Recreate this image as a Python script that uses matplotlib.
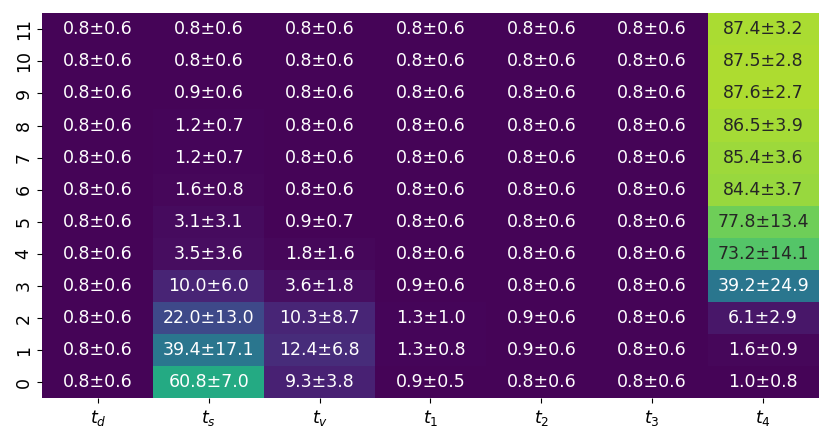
import numpy as np
import pandas as pd
import matplotlib
matplotlib.use("Agg")
import matplotlib.pyplot as plt
import seaborn as sns

# rows 0..11 (bottom to top), mean and std for each column
rows = list(range(12))
columns = ["$t_d$", "$t_s$", "$t_v$", "$t_1$", "$t_2$", "$t_3$", "$t_4$"]

td_mean = [0.8] * 12
td_std = [0.6] * 12
ts_mean = [60.8, 39.4, 22.0, 10.0, 3.5, 3.1, 1.6, 1.2, 1.2, 0.9, 0.8, 0.8]
ts_std = [7.0, 17.1, 13.0, 6.0, 3.6, 3.1, 0.8, 0.7, 0.7, 0.6, 0.6, 0.6]
tv_mean = [9.3, 12.4, 10.3, 3.6, 1.8, 0.9, 0.8, 0.8, 0.8, 0.8, 0.8, 0.8]
tv_std = [3.8, 6.8, 8.7, 1.8, 1.6, 0.7, 0.6, 0.6, 0.6, 0.6, 0.6, 0.6]
t1_mean = [0.9, 1.3, 1.3, 0.9, 0.8, 0.8, 0.8, 0.8, 0.8, 0.8, 0.8, 0.8]
t1_std = [0.5, 0.8, 1.0, 0.6, 0.6, 0.6, 0.6, 0.6, 0.6, 0.6, 0.6, 0.6]
t2_mean = [0.8, 0.9, 0.9, 0.8, 0.8, 0.8, 0.8, 0.8, 0.8, 0.8, 0.8, 0.8]
t2_std = [0.6] * 12
t3_mean = [0.8] * 12
t3_std = [0.6] * 12
t4_mean = [1.0, 1.6, 6.1, 39.2, 73.2, 77.8, 84.4, 85.4, 86.5, 87.6, 87.5, 87.4]
t4_std = [0.8, 0.9, 2.9, 24.9, 14.1, 13.4, 3.7, 3.6, 3.9, 2.7, 2.8, 3.2]

means = np.array([td_mean, ts_mean, tv_mean, t1_mean, t2_mean, t3_mean, t4_mean]).T
stds = np.array([td_std, ts_std, tv_std, t1_std, t2_std, t3_std, t4_std]).T

labels = np.array([[f"{m:.1f}\u00b1{s:.1f}" for m, s in zip(mr, sr)]
                   for mr, sr in zip(means, stds)])

df = pd.DataFrame(means, index=rows, columns=columns).iloc[::-1]
annot = labels[::-1]

fig, ax = plt.subplots(figsize=(8.31, 4.41), dpi=100)
sns.heatmap(df, annot=annot, fmt="", cmap="viridis", vmin=0, vmax=100,
            cbar=False, ax=ax, annot_kws={"fontsize": 12.5})
ax.tick_params(axis="both", labelsize=12.5)
ax.set_yticklabels(ax.get_yticklabels(), rotation=90, va="center")
ax.set_xticklabels(ax.get_xticklabels(), rotation=0)
plt.subplots_adjust(left=0.051, right=0.985, top=0.97, bottom=0.097)
plt.savefig("out.png", dpi=100)
